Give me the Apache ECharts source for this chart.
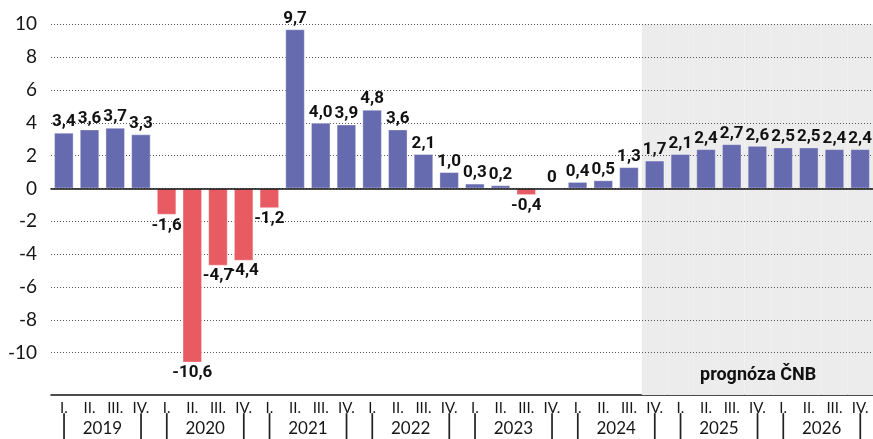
<!DOCTYPE html>
<html>
<head>
<meta charset="utf-8">
<script src="https://cdn.jsdelivr.net/npm/echarts@6/dist/echarts.min.js"></script>
<style>
  html, body { margin: 0; padding: 0; background: #fff; }
  #chart { width: 873px; height: 439px; }
</style>
</head>
<body>
<div id="chart"></div>
<script>
// ---- data ----
const years = ['2019', '2020', '2021', '2022', '2023', '2024', '2025', '2026'];
const quarters = ['I.', 'II.', 'III.', 'IV.'];
const categories = years.flatMap(y => quarters.map(q => y + ' ' + q));
const gdpGrowth = [
  3.4, 3.6, 3.7, 3.3,
  -1.6, -10.6, -4.7, -4.4,
  -1.2, 9.7, 4.0, 3.9,
  4.8, 3.6, 2.1, 1.0,
  0.3, 0.2, -0.4, 0,
  0.4, 0.5, 1.3, 1.7,
  2.1, 2.4, 2.7, 2.6,
  2.5, 2.5, 2.4, 2.4
];
const forecastStart = '2024 IV.';
const forecastLabel = 'prognóza ČNB';
const yTicks = { min: -10, max: 10, step: 2 };

// ---- styles ----
const BLUE = '#666aae';
const RED = '#e85b62';
const TXT = '#161616';
const fIdx = categories.indexOf(forecastStart);
const forecastBand = categories.map((c, i) => (i >= fIdx ? 1 : '-'));

const chart = echarts.init(document.getElementById('chart'), null, { renderer: 'canvas' });

const gridBox = { left: 51, right: 0, top: 24.3 };

chart.setOption({
  animation: false,
  backgroundColor: '#ffffff',
  grid: [
    { left: gridBox.left, right: gridBox.right, top: gridBox.top, height: 328.4 },
    { left: gridBox.left, right: gridBox.right, top: gridBox.top, bottom: 42 }
  ],
  xAxis: [
    {
      type: 'category', gridIndex: 0, data: categories, z: 3,
      axisLine: { onZero: true, lineStyle: { color: '#111', width: 1.5 } },
      axisTick: { inside: true, length: 7, lineStyle: { color: '#111', width: 1.2 } },
      axisLabel: { show: false }
    },
    {
      type: 'category', gridIndex: 1, data: categories, position: 'bottom',
      axisLine: { lineStyle: { color: '#111', width: 1.5 } },
      axisTick: { inside: true, length: 7, lineStyle: { color: '#111', width: 1.2 } },
      axisLabel: {
        interval: 0, margin: 5,
        formatter: (v) => {
          const q = v.split(' ')[1];
          const sep = (q === 'I.' || q === 'IV.') ? '│' : ' ';
          return '{q|' + q + '}\n{s|' + sep + '}';
        },
        rich: {
          q: { fontFamily: 'Lato', fontSize: 15, color: TXT, lineHeight: 16, align: 'center' },
          s: { fontFamily: 'DejaVu Sans', fontSize: 22, color: '#222', lineHeight: 24, align: 'center' }
        }
      }
    },
    {
      type: 'category', gridIndex: 1, data: years, position: 'bottom',
      axisLine: { show: false }, axisTick: { show: false },
      axisLabel: { interval: 0, margin: 25, fontFamily: 'Lato', fontSize: 17, color: TXT }
    }
  ],
  yAxis: [
    {
      type: 'value', gridIndex: 0, min: yTicks.min, max: yTicks.max, interval: yTicks.step, z: 1,
      axisLine: { show: false }, axisTick: { show: false },
      axisLabel: { margin: 14, fontFamily: 'Lato', fontSize: 19, color: TXT },
      splitLine: { show: true, lineStyle: { color: '#555', type: [1, 2], width: 1 } }
    },
    {
      type: 'value', gridIndex: 1, min: 0, max: 1, show: false, splitLine: { show: false }
    }
  ],
  series: [
    {
      type: 'bar', xAxisIndex: 1, yAxisIndex: 1, data: forecastBand, z: 0,
      barWidth: '100%', silent: true,
      itemStyle: { color: '#ececec' }
    },
    {
      type: 'bar', xAxisIndex: 0, yAxisIndex: 0, z: 2, clip: false,
      barWidth: '76%',
      data: gdpGrowth.map(v => ({
        value: v,
        label: { position: v < 0 ? 'bottom' : 'top' }
      })),
      itemStyle: {
        color: (p) => (p.value < 0 ? RED : BLUE),
        borderColor: 'rgba(255,255,255,0.35)', borderWidth: 1
      },
      label: {
        show: true,
        distance: 2,
        fontFamily: 'Roboto', fontWeight: 'bold', fontSize: 17, color: '#111',
        formatter: (p) => (p.value === 0 ? '0' : p.value.toFixed(1).replace('.', ','))
      }
    }
  ],
  graphic: [
    {
      type: 'text', left: 700, top: 366, z: 10,
      style: { text: forecastLabel, fontFamily: 'Roboto', fontWeight: 'bold', fontSize: 18, fill: '#111' }
    }
  ]
});
</script>
</body>
</html>
